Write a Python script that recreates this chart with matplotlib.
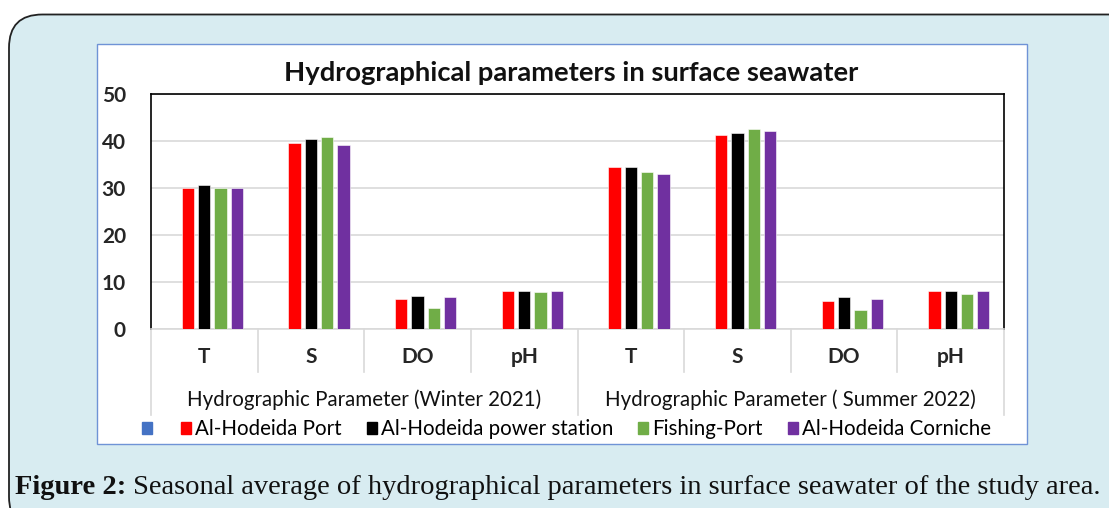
import matplotlib.pyplot as plt
import matplotlib.transforms as mtransforms
from matplotlib.patches import FancyBboxPatch, Rectangle, Patch

# --- Data ----------------------------------------------------------------
params = ["T", "S", "DO", "pH"]
seasons = ["Hydrographic Parameter (Winter 2021)", "Hydrographic Parameter ( Summer 2022)"]
stations = ["Al-Hodeida Port", "Al-Hodeida power station", "Fishing-Port", "Al-Hodeida Corniche"]

# values per station, order: winter T, S, DO, pH, summer T, S, DO, pH
port = [30.0, 39.5, 6.3, 8.1, 34.5, 41.2, 6.0, 8.0]
power = [30.7, 40.5, 7.0, 8.1, 34.5, 41.6, 6.8, 8.0]
fishing = [30.0, 40.8, 4.4, 7.8, 33.5, 42.5, 4.0, 7.4]
corniche = [30.0, 39.2, 6.8, 8.1, 33.0, 42.2, 6.3, 8.0]

colors = ["#ff0000", "#000000", "#70ad47", "#7030a0"]
empty_color = "#4472c4"  # unnamed first series, no values

# --- Figure ---------------------------------------------------------------
W, H = 1109, 508
fig = plt.figure(figsize=(W / 100, H / 100), dpi=100)
fig.patch.set_facecolor("white")
plt.rcParams["font.family"] = ["Lato", "DejaVu Sans"]


def fx(x):
    return x / W


def fy(y):
    return 1 - y / H


# outer rounded panel
fig.patches.append(FancyBboxPatch((fx(9), fy(530)), fx(1140), 530 / H - 14.5 / H,
                                  boxstyle="round,pad=0,rounding_size=0.03",
                                  transform=fig.transFigure, facecolor="#d8ecf1",
                                  edgecolor="#222222", linewidth=1.3,
                                  mutation_aspect=W / H, zorder=0))
# inner white chart box
fig.patches.append(Rectangle((fx(97), fy(444)), fx(1027 - 97), (444 - 43.5) / H,
                             transform=fig.transFigure, facecolor="white",
                             edgecolor="#6f93d6", linewidth=1.0, zorder=1))

ax = fig.add_axes([fx(151), fy(329), fx(1004 - 151), (329 - 94) / H])
ax.set_zorder(2)

n_cat = len(params) * len(seasons)
values = [port, power, fishing, corniche]
slot = 0.153
bw = 0.115
xs = [i + 0.5 for i in range(n_cat)]
for s, (vals, c) in enumerate(zip(values, colors)):
    off = (s + 1 - 2) * slot  # slot 0 is the empty series
    ax.bar([x + off for x in xs], vals, width=bw, color=c, edgecolor="white",
           linewidth=0.4, zorder=3)

ax.set_xlim(0, n_cat)
ax.set_ylim(0, 50)
ax.set_yticks(range(0, 51, 10))
ax.set_xticks([])
ax.yaxis.grid(True, color="#d9d9d9", linewidth=1.2)
ax.set_axisbelow(True)
ax.tick_params(axis="y", length=0, pad=18, labelsize=15, labelcolor="#262626")
for lab in ax.get_yticklabels():
    lab.set_fontweight("bold")
for side in ["left", "top", "right"]:
    ax.spines[side].set_color("black")
    ax.spines[side].set_linewidth(1.2)
ax.spines["bottom"].set_color("#d9d9d9")
ax.spines["bottom"].set_linewidth(1.2)

# multi-level category axis
tr = mtransforms.blended_transform_factory(ax.transData, fig.transFigure)
for k in range(n_cat + 1):
    bottom = 415 if k % len(params) == 0 else 372
    ax.plot([k, k], [fy(329), fy(bottom)], transform=tr, color="#d9d9d9",
            linewidth=1.2, clip_on=False)
for i, x in enumerate(xs):
    ax.text(x, fy(357), params[i % len(params)], transform=tr, ha="center",
            va="center", fontsize=15, fontweight="bold", color="#262626")
for g, name in enumerate(seasons):
    ax.text(len(params) * (g + 0.5), fy(400), name, transform=tr, ha="center",
            va="center", fontsize=14.8, color="#111111")

# title
fig.text(fx(571), fy(73), "Hydrographical parameters in surface seawater",
         ha="center", va="center", fontsize=19.7, fontweight="bold", color="#111111")

# legend (first entry is the unnamed, empty series)
handles = [Patch(color=empty_color)] + [Patch(color=c) for c in colors]
labels = [""] + stations
fig.legend(handles, labels, loc="center left", bbox_to_anchor=(fx(142), fy(429)),
           ncol=5, frameon=False, fontsize=14.8, handlelength=0.5, handleheight=0.5,
           handletextpad=0.2, columnspacing=1.2, borderaxespad=0, borderpad=0)

# caption
cap = fig.text(fx(15), fy(487), "Figure 2:", ha="left", va="center", fontsize=20.5,
               fontweight="bold", family="Liberation Serif", color="#111111")
fig.add_artist(plt.Annotation(
    " Seasonal average of hydrographical parameters in surface seawater of the study area.",
    xy=(1, 0.5), xycoords=cap, ha="left", va="center", fontsize=20.5,
    family="Liberation Serif", color="#111111"))

fig.savefig("out.png", dpi=100, facecolor=fig.get_facecolor())
